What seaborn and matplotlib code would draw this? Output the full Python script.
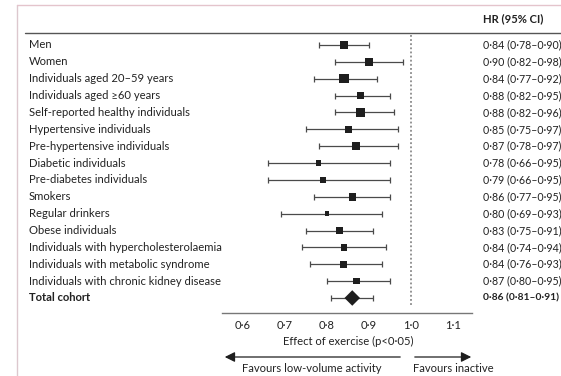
import matplotlib
matplotlib.use("Agg")
import matplotlib.pyplot as plt
import matplotlib.transforms as mtransforms
import seaborn as sns
import pandas as pd
import numpy as np

# Subgroups and hazard ratios
groups = ["Men", "Women", "Individuals aged 20–59 years", "Individuals aged \u226560 years",
          "Self-reported healthy individuals", "Hypertensive individuals",
          "Pre-hypertensive individuals", "Diabetic individuals", "Pre-diabetes individuals",
          "Smokers", "Regular drinkers", "Obese individuals",
          "Individuals with hypercholesterolaemia", "Individuals with metabolic syndrome",
          "Individuals with chronic kidney disease", "Total cohort"]
hr = [0.84, 0.90, 0.84, 0.88, 0.88, 0.85, 0.87, 0.78, 0.79, 0.86, 0.80, 0.83, 0.84, 0.84, 0.87, 0.86]
lo = [0.78, 0.82, 0.77, 0.82, 0.82, 0.75, 0.78, 0.66, 0.66, 0.77, 0.69, 0.75, 0.74, 0.76, 0.80, 0.81]
hi = [0.90, 0.98, 0.92, 0.95, 0.96, 0.97, 0.97, 0.95, 0.95, 0.95, 0.93, 0.91, 0.94, 0.93, 0.95, 0.91]
# relative weight of each subgroup (drawn as box width)
weight = [8, 8, 9.5, 7, 9, 7, 8, 5.5, 5.5, 7.5, 4.5, 6.5, 6.5, 7, 6.5, 11]
xticks = [0.6, 0.7, 0.8, 0.9, 1.0, 1.1]


def fmt(v):
    return f"{v:.2f}".replace(".", "\u00b7")


df = pd.DataFrame({"group": groups, "hr": hr, "lo": lo, "hi": hi, "w": weight})
df["row"] = np.arange(len(df))
df["s"] = (df["w"] * 0.72) ** 2

sns.set_style("white")
plt.rcParams["font.family"] = ["Lato", "DejaVu Sans"]
txt = "#222222"
fs = 8.1

fig = plt.figure(figsize=(5.61, 3.76), dpi=100)
W, H = 561, 376
ax = fig.add_axes([222 / W, 1 - 313 / H, 250 / W, 278 / H])

sub = df.iloc[:-1]
tot = df.iloc[-1:]

ax.errorbar(df["hr"], df["row"], xerr=[df["hr"] - df["lo"], df["hi"] - df["hr"]],
            fmt="none", ecolor="#4a4a4a", elinewidth=0.9, capsize=2.2, capthick=0.9, zorder=2)
sns.scatterplot(data=sub, x="hr", y="row", marker="s", s=sub["s"].values, color="#1e1e1e",
                edgecolor="none", ax=ax, zorder=3, legend=False)
sns.scatterplot(data=tot, x="hr", y="row", marker="D", s=tot["s"].values, color="#1e1e1e",
                edgecolor="none", ax=ax, zorder=3, legend=False)

ax.vlines(1.0, -0.6, 15.45, colors="#777777", linestyles=(0, (1.2, 1.5)), linewidth=1.1)

ax.set_xlim(0.55, 1.145)
ax.set_ylim(15.89, -0.59)
ax.set_xticks(xticks)
ax.set_xticklabels([f"{t:.1f}".replace(".", "\u00b7") for t in xticks], fontsize=fs, color=txt)
ax.set_yticks([])
ax.set_xlabel("")
ax.set_ylabel("")
for side in ["top", "right", "left"]:
    ax.spines[side].set_visible(False)
ax.spines["bottom"].set_color("#777777")
ax.spines["bottom"].set_linewidth(1)
ax.tick_params(axis="x", direction="in", length=4, width=0.9, color="#666666", pad=5)

tr = mtransforms.blended_transform_factory(fig.transFigure, ax.transData)
for i, row in df.iterrows():
    bold = row["group"] == "Total cohort"
    fig.text(29 / W, row["row"], row["group"], transform=tr, va="center", ha="left",
             fontsize=fs, color=txt, fontweight="bold" if bold else "normal")
    fig.text(483 / W, row["row"], f"{fmt(row['hr'])} ({fmt(row['lo'])}\u2013{fmt(row['hi'])})",
             transform=tr, va="center", ha="left", fontsize=7.4 if bold else 7.7, color=txt,
             fontweight="bold" if bold else "normal")

fig.text(483 / W, 1 - 19 / H, "HR (95% CI)", fontsize=fs, fontweight="bold", color=txt,
         va="center", ha="left")
fig.add_artist(plt.Line2D([25 / W, 1], [1 - 33 / H] * 2, color="#555555", lw=1))
# frame
fig.add_artist(plt.Line2D([17 / W, 17 / W], [0, 1 - 5 / H], color="#dcc8ce", lw=1))
fig.add_artist(plt.Line2D([17 / W, 1], [1 - 5 / H] * 2, color="#e4c4cc", lw=1))

fig.text(348 / W, 1 - 341 / H, "Effect of exercise (p<0\u00b705)", fontsize=fs, color=txt,
         ha="center", va="center")
fig.add_artist(matplotlib.patches.FancyArrowPatch((403 / W, 1 - 357 / H), (222 / W, 1 - 357 / H),
               transform=fig.transFigure, arrowstyle="-|>,head_length=6,head_width=3",
               color="#1e1e1e", lw=0.9))
fig.add_artist(matplotlib.patches.FancyArrowPatch((412 / W, 1 - 357 / H), (474 / W, 1 - 357 / H),
               transform=fig.transFigure, arrowstyle="-|>,head_length=6,head_width=3",
               color="#1e1e1e", lw=0.9))
fig.text(312 / W, 1 - 368 / H, "Favours low-volume activity", fontsize=fs, color=txt,
         ha="center", va="center")
fig.text(413 / W, 1 - 368 / H, "Favours inactive", fontsize=fs, color=txt,
         ha="left", va="center")

fig.savefig("out.png", dpi=100)
